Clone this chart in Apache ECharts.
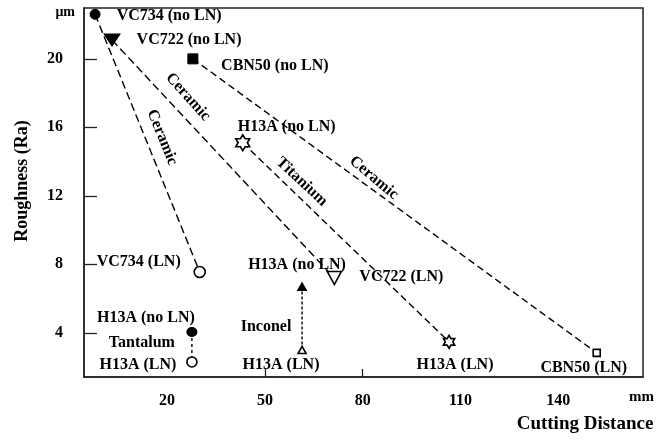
<!DOCTYPE html>
<html>
<head>
<meta charset="utf-8">
<script src="https://cdn.jsdelivr.net/npm/echarts@6/dist/echarts.min.js"></script>
<style>
html,body{margin:0;padding:0;background:#fff;}
#chart{width:657px;height:441px;}
</style>
</head>
<body>
<div id="chart"></div>
<script>
// ---- data ----
const tools = ['VC734', 'VC722', 'CBN50', 'H13A', 'H13A', 'H13A'];
const materials = ['Ceramic', 'Ceramic', 'Ceramic', 'Titanium', 'Tantalum', 'Inconel'];
const distNoLN = [-2.1, 3.1, 27.9, 43.2, 27.6, 61.4];
const raNoLN = [22.6, 21.1, 20.0, 15.1, 4.05, 6.7];
const distLN = [30.0, 71.3, 151.8, 106.5, 27.6, 61.4];
const raLN = [7.55, 7.2, 2.83, 3.47, 2.3, 3.0];
const xTicks = [20, 50, 80, 110, 140];
const yTicks = [4, 8, 12, 16, 20];

// ---- styles ----
const FONT = '"Liberation Serif", "DejaVu Serif", serif';
const STAR = 'path://M100 0L128.9 50L186.6 50L157.7 100L186.6 150L128.9 150L100 200L71.1 150L13.4 150L42.3 100L13.4 50L71.1 50Z';
const symNoLN = ['circle', 'triangle', 'rect', STAR, 'circle', 'triangle'];
const rotNoLN = [0, 180, 0, 0, 0, 0];
const sizeNoLN = [[10, 10], [16, 12], [10, 10], [16, 16], [10, 9], [9, 8]];
const filledNoLN = [true, true, true, false, true, true];
const symLN = ['circle', 'triangle', 'rect', STAR, 'circle', 'triangle'];
const rotLN = [0, 180, 0, 0, 0, 0];
const sizeLN = [[11, 11], [14, 13], [7, 7], [13, 13], [10, 10], [8, 7]];
const offNoLN = [[74, 2], [77, 0], [82, 7], [44, -16], [-46, -14], [-5, -22]];
const offLN = [[-61, -10], [67, -1], [-13, 15], [6, 23], [-54, 3], [-21, 15]];
const dashes = [[8, 4], [8, 4], [7, 4], [7, 4], [3, 3], [3, 2]];
const matOff = [[67, 123], [76, 57], [181, 119], [59, 39], [-50, 11], [-36, 40]];
const matRot = [-68, -48, -40, -43, 0, 0];

const chart = echarts.init(document.getElementById('chart'), null, {renderer: 'canvas'});

function itemStyle(filled) {
  return filled ? {color: '#000', borderColor: '#000', borderWidth: 1}
                : {color: '#fff', borderColor: '#000', borderWidth: 1.6};
}
const labelBase = {show: true, position: 'inside', align: 'center', verticalAlign: 'middle',
  fontFamily: FONT, fontWeight: 'bold', fontSize: 16, color: '#000'};

const series = tools.map((t, i) => ({
  type: 'line',
  name: materials[i],
  silent: true,
  symbolKeepAspect: true,
  lineStyle: {color: '#000', width: 1.4, type: dashes[i]},
  z: 2,
  data: [
    {
      value: [distNoLN[i], raNoLN[i]],
      name: t + ' (no LN)',
      symbol: symNoLN[i], symbolRotate: rotNoLN[i], symbolSize: sizeNoLN[i],
      itemStyle: itemStyle(filledNoLN[i]),
      label: Object.assign({}, labelBase, {offset: offNoLN[i], formatter: '{b}'})
    },
    {
      value: [distLN[i], raLN[i]],
      name: t + ' (LN)',
      symbol: symLN[i], symbolRotate: rotLN[i], symbolSize: sizeLN[i],
      itemStyle: itemStyle(false),
      label: Object.assign({}, labelBase, {offset: offLN[i], formatter: '{b}'})
    }
  ]
}));

const option = {
  backgroundColor: '#fff',
  animation: false,
  grid: {left: 84, right: 13, top: 8, bottom: 64, show: true, borderColor: '#222', borderWidth: 1.5, backgroundColor: 'transparent'},
  xAxis: {
    type: 'value', min: -5.5, max: 166,
    name: 'mm', nameLocation: 'end', nameGap: 11,
    nameTextStyle: {fontFamily: FONT, fontWeight: 'bold', fontSize: 15, color: '#000', align: 'right', verticalAlign: 'top', padding: [13, 0, 0, 0]},
    axisLine: {show: true, onZero: false, lineStyle: {color: '#222', width: 1.5}},
    axisTick: {show: true, inside: true, length: 8, customValues: [50, 80], lineStyle: {color: '#222', width: 1.3}},
    axisLabel: {customValues: xTicks, margin: 16, fontFamily: FONT, fontWeight: 'bold', fontSize: 16, color: '#000'},
    splitLine: {show: false}
  },
  yAxis: {
    type: 'value', min: 1.42, max: 22.97,
    name: 'μm', nameLocation: 'end', nameGap: -4,
    nameTextStyle: {fontFamily: FONT, fontWeight: 'bold', fontSize: 14, color: '#000', align: 'right', verticalAlign: 'middle', padding: [0, 9, 0, 0]},
    axisLine: {show: true, onZero: false, lineStyle: {color: '#222', width: 1.5}},
    axisTick: {show: true, inside: true, length: 13, customValues: yTicks, lineStyle: {color: '#222', width: 1.3}},
    axisLabel: {customValues: yTicks, margin: 21, fontFamily: FONT, fontWeight: 'bold', fontSize: 16, color: '#000'},
    splitLine: {show: false}
  },
  series: series
};
chart.setOption(option);

const textStyle = {fontFamily: FONT, fontWeight: 'bold', fontSize: 16, fill: '#000', align: 'center', verticalAlign: 'middle'};
const graphics = [
  {type: 'text', x: 22, y: 181, rotation: Math.PI / 2,
   style: Object.assign({}, textStyle, {text: 'Roughness (Ra)', fontSize: 18})},
  {type: 'text', x: 585, y: 424,
   style: Object.assign({}, textStyle, {text: 'Cutting Distance', fontSize: 19})}
];
materials.forEach((m, i) => {
  const p = chart.convertToPixel({gridIndex: 0}, [distNoLN[i], raNoLN[i]]);
  graphics.push({
    type: 'text', x: p[0] + matOff[i][0], y: p[1] + matOff[i][1],
    rotation: matRot[i] * Math.PI / 180,
    style: Object.assign({}, textStyle, {text: m})
  });
});
chart.setOption({graphic: graphics});
</script>
</body>
</html>
